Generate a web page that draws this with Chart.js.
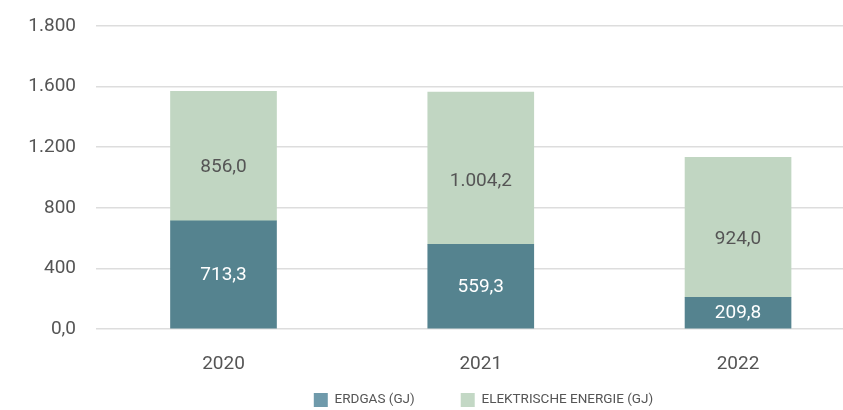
<!DOCTYPE html>
<html lang="de">
<head>
<meta charset="UTF-8">
<title>Energieverbrauch</title>
<script src="https://cdn.jsdelivr.net/npm/chart.js"></script>
<style>
  body { margin: 0; background: #fff; }
  #wrap { width: 843px; height: 410px; }
</style>
</head>
<body>
<div id="wrap"><canvas id="chart"></canvas></div>
<script>
// Jahre und Werte (GJ)
const years = ['2020', '2021', '2022'];
const erdgas = [713.3, 559.3, 209.8];
const strom = [856.0, 1004.2, 924.0];
const yTicks = [0, 400, 800, 1200, 1600, 2000];
const yTickLabels = ['0,0', '400', '800', '1.200', '1.600', '1.800'];

const dark = '#55838f';
const light = '#c1d6c2';
const legendBoxes = ['#6f9aab', '#c3d8c5'];
const textColor = '#555555';

// deutsches Zahlenformat: 1.004,2
const fmt = (v) => {
    const [i, d] = v.toFixed(1).split('.');
    return i.replace(/\B(?=(\d{3})+(?!\d))/g, '.') + ',' + d;
};

// Werte in die Balken schreiben + Legende verschieben
const valueLabels = {
    id: 'valueLabels',
    afterLayout(chart) {
        // Legende etwas nach rechts und nach oben wie im Original
        const lg = chart.legend;
        lg.left += 14;
        lg.right += 14;
        lg.top -= 30;
        lg.bottom -= 30;
    },
    afterDatasetsDraw(chart) {
        const ctx = chart.ctx;
        ctx.save();
        ctx.font = '19px Roboto';
        ctx.textAlign = 'center';
        ctx.textBaseline = 'middle';
        chart.data.datasets.forEach((ds, di) => {
            chart.getDatasetMeta(di).data.forEach((bar, i) => {
                // obere Werte sitzen im Original etwas tiefer
                const f = di === 0 ? 0.5 : 0.42;
                const pos = bar.base + (bar.y - bar.base) * f;
                ctx.fillStyle = di === 0 ? '#ffffff' : textColor;
                ctx.fillText(fmt(ds.data[i].y), bar.x, pos + 1);
            });
        });
        ctx.restore();
    }
};

new Chart(document.getElementById('chart'), {
    type: 'bar',
    data: {
        datasets: [
            {
                label: 'ERDGAS (GJ)',
                data: erdgas.map((v, i) => ({ x: i, y: v })),
                backgroundColor: dark,
                barThickness: 106
            },
            {
                label: 'ELEKTRISCHE ENERGIE (GJ)',
                data: strom.map((v, i) => ({ x: i, y: v })),
                backgroundColor: light,
                barThickness: 106
            }
        ]
    },
    options: {
        responsive: true,
        maintainAspectRatio: false,
        animation: false,
        layout: { padding: { top: 26, right: 0, left: 0, bottom: -37 } },
        plugins: {
            tooltip: { enabled: false },
            legend: {
                position: 'bottom',
                fullSize: false,
                labels: {
                    color: textColor,
                    font: { family: 'Roboto', size: 13.5 },
                    boxWidth: 14,
                    boxHeight: 14,
                    padding: 46,
                    generateLabels: (chart) => {
                        const items = Chart.defaults.plugins.legend.labels.generateLabels(chart);
                        items.forEach((it, i) => {
                            it.fillStyle = legendBoxes[i];
                            it.strokeStyle = legendBoxes[i];
                            it.lineWidth = 0;
                        });
                        return items;
                    }
                }
            }
        },
        scales: {
            x: {
                type: 'linear',
                stacked: true,
                offset: false,
                min: -0.4956,
                max: 2.408,
                grid: { display: false },
                border: { display: false },
                afterFit: (s) => { s.height = 48; },
                afterBuildTicks: (s) => { s.ticks = years.map((y, i) => ({ value: i })); },
                ticks: {
                    color: textColor,
                    font: { family: 'Roboto', size: 19 },
                    padding: 16,
                    callback: (v) => years[v]
                }
            },
            y: {
                stacked: true,
                min: 0,
                max: 2000,
                afterFit: (s) => {
                    s.width = 96;
                    s.paddingTop = 0;
                    s.paddingBottom = 0;
                },
                afterBuildTicks: (s) => { s.ticks = yTicks.map((v) => ({ value: v })); },
                grid: { color: '#dddddd', lineWidth: 1.5, drawTicks: false },
                border: { display: false },
                ticks: {
                    color: textColor,
                    font: { family: 'Roboto', size: 19 },
                    padding: 20,
                    callback: (v) => yTickLabels[yTicks.indexOf(v)]
                }
            }
        }
    },
    plugins: [valueLabels]
});
</script>
</body>
</html>
